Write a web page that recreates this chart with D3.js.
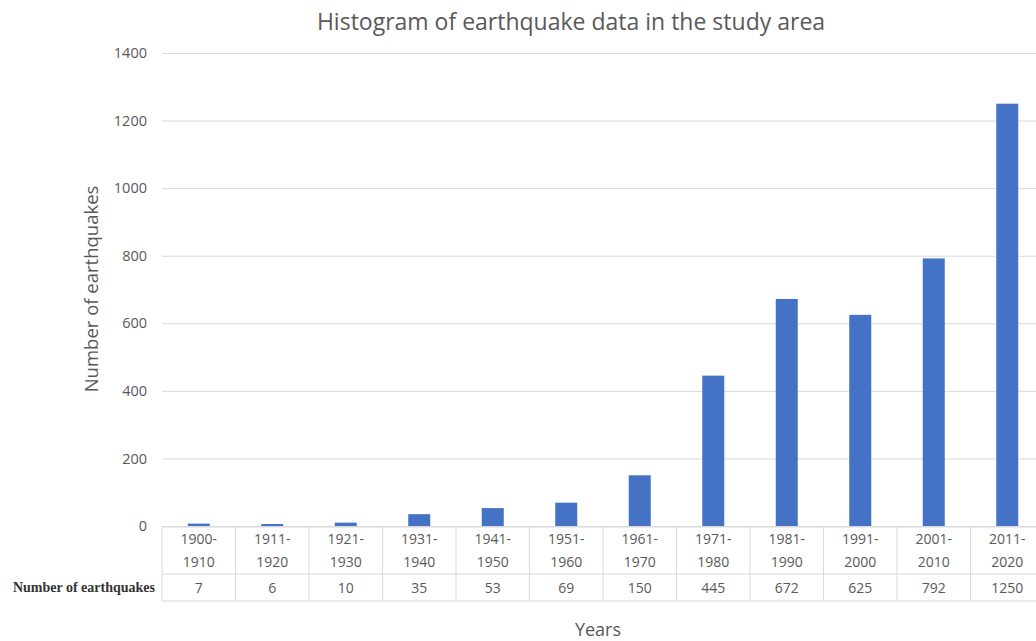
<!DOCTYPE html>
<html>
<head>
<meta charset="utf-8">
<script src="https://cdn.jsdelivr.net/npm/d3@7"></script>
<style>
  html, body { margin: 0; padding: 0; background: #fff; }
  svg { display: block; }
</style>
</head>
<body>
<svg id="chart" width="1036" height="641"></svg>
<script>
// Earthquake counts per decade
const periods = ["1900-1910", "1911-1920", "1921-1930", "1931-1940", "1941-1950", "1951-1960",
                 "1961-1970", "1971-1980", "1981-1990", "1991-2000", "2001-2010", "2011-2020"];
const counts = [7, 6, 10, 35, 53, 69, 150, 445, 672, 625, 792, 1250];
const yTicks = [0, 200, 400, 600, 800, 1000, 1200, 1400];

const svg = d3.select("#chart");
const font = "'Open Sans', 'Noto Sans', sans-serif";
const textCol = "#595959";
const gridCol = "#d9d9d9";

const left = 162, colW = 73.5;
const x = d3.scaleBand().domain(periods).range([left, left + colW * periods.length]).padding(0);
const y = d3.scaleLinear().domain([0, 1400]).range([526, 53]);

// Title
svg.append("text")
  .attr("x", 571).attr("y", 30)
  .attr("text-anchor", "middle")
  .attr("font-family", font).attr("font-size", 23)
  .attr("fill", textCol)
  .text("Histogram of earthquake data in the study area");

// Gridlines and y tick labels
const yAxis = d3.axisLeft(y).tickValues(yTicks).tickSize(-(1036 - left)).tickFormat(d3.format("d"));
const gy = svg.append("g").attr("transform", `translate(${left},0)`).call(yAxis);
gy.select(".domain").remove();
gy.selectAll(".tick line").attr("stroke", gridCol).attr("stroke-width", 1);
gy.selectAll(".tick text")
  .attr("x", -15)
  .attr("font-family", font).attr("font-size", 14.5)
  .attr("fill", textCol);

// Y axis title
svg.append("text")
  .attr("transform", "translate(98,289) rotate(-90)")
  .attr("text-anchor", "middle")
  .attr("font-family", font).attr("font-size", 18.5)
  .attr("fill", textCol)
  .text("Number of earthquakes");

// Bars
const barW = 22;
svg.append("g").selectAll("rect")
  .data(periods.map((p, i) => ({ p, v: counts[i] })))
  .join("rect")
  .attr("x", d => x(d.p) + x.bandwidth() / 2 - barW / 2)
  .attr("y", d => y(d.v))
  .attr("width", barW)
  .attr("height", d => y(0) - y(d.v))
  .attr("fill", "#4472c4");

// Data table beneath the axis
const tTop = 527, tMid = 574, tBot = 601;
const table = svg.append("g").attr("stroke", gridCol).attr("stroke-width", 1).attr("fill", "none");
table.append("line").attr("x1", left).attr("x2", 1036).attr("y1", tTop).attr("y2", tTop);
table.append("line").attr("x1", left).attr("x2", 1036).attr("y1", tMid).attr("y2", tMid);
table.append("line").attr("x1", left).attr("x2", 1036).attr("y1", tBot).attr("y2", tBot);
periods.forEach(p => {
  table.append("line").attr("x1", x(p)).attr("x2", x(p)).attr("y1", tTop).attr("y2", tBot);
});

const cells = svg.append("g").attr("font-family", font).attr("font-size", 14).attr("fill", textCol)
  .attr("text-anchor", "middle");
periods.forEach((p, i) => {
  const cx = x(p) + x.bandwidth() / 2;
  const [a, b] = p.split("-");
  cells.append("text").attr("x", cx).attr("y", 544).text(a + "-");
  cells.append("text").attr("x", cx).attr("y", 567).text(b);
  cells.append("text").attr("x", cx).attr("y", 593).text(counts[i]);
});

// Row label for the values
svg.append("text")
  .attr("x", 155).attr("y", 592)
  .attr("text-anchor", "end")
  .attr("font-family", "'Liberation Serif', 'DejaVu Serif', serif")
  .attr("font-size", 14)
  .attr("font-weight", "bold")
  .attr("fill", "#333")
  .text("Number of earthquakes");

// X axis title
svg.append("text")
  .attr("x", 598).attr("y", 636)
  .attr("text-anchor", "middle")
  .attr("font-family", font).attr("font-size", 18)
  .attr("fill", textCol)
  .text("Years");
</script>
</body>
</html>
